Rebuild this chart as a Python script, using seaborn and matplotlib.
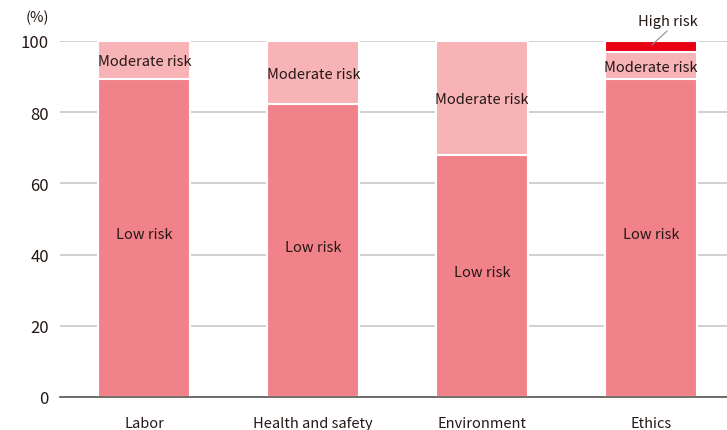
import matplotlib
matplotlib.use('Agg')
import matplotlib.pyplot as plt
import numpy as np
import pandas as pd
import seaborn as sns

categories = ['Labor', 'Health and safety', 'Environment', 'Ethics']
low_risk = [89.3, 82.2, 68.0, 89.4]
moderate_risk = [10.7, 17.8, 32.0, 7.4]
high_risk = [0.0, 0.0, 0.0, 3.2]
yticks = [0, 20, 40, 60, 80, 100]

colors = {'low': '#f2828a', 'moderate': '#f8b3b7', 'high': '#e60012'}

sns.set_style('white')
plt.rcParams['font.family'] = ['Noto Sans CJK JP', 'DejaVu Sans']

low = np.array(low_risk)
mid = low + np.array(moderate_risk)
top = mid + np.array(high_risk)

fig = plt.figure(figsize=(7.27, 4.31), dpi=100)
ax = fig.add_axes([0.0825, 0.0766, 0.9175, 0.826])

# stacked look: draw cumulative totals back to front
for vals, key in [(top, 'high'), (mid, 'moderate'), (low, 'low')]:
    df = pd.DataFrame({'cat': categories, 'val': vals})
    sns.barplot(data=df, x='cat', y='val', color=colors[key], saturation=1,
                width=0.545, edgecolor='white', linewidth=1.5, ax=ax, zorder=3)

for i in range(len(categories)):
    ax.text(i, low[i] / 2 + 1, 'Low risk', ha='center', va='center',
            fontsize=10.5, color='#231815', zorder=5)
    ax.text(i, (low[i] + mid[i]) / 2 - 0.3, 'Moderate risk', ha='center',
            va='center', fontsize=10.5, color='#231815', zorder=5)

# leader line for the small high-risk segment
ax.plot([3.006, 3.095], [98.9, 102.8], color='#8c8c8c', lw=0.8,
        clip_on=False, zorder=6)
ax.text(3.10, 105.7, 'High risk', ha='center', va='center', fontsize=10.5,
        color='#231815', clip_on=False, zorder=6)

ax.set_ylim(0, 100)
ax.set_xlim(-0.5, 3.45)
ax.set_yticks(yticks)
ax.yaxis.grid(True, color='#c8c8c8', linewidth=1.2, zorder=0)
ax.set_axisbelow(True)
for s in ['top', 'right', 'left']:
    ax.spines[s].set_visible(False)
ax.spines['bottom'].set_color('#5a5650')
ax.spines['bottom'].set_linewidth(1.2)
ax.spines['bottom'].set_zorder(4)
ax.tick_params(axis='y', length=0, pad=8, labelsize=12, labelcolor='#231815')
ax.tick_params(axis='x', length=0, pad=14, labelsize=10.5, labelcolor='#231815')
ax.set_xlabel('')
ax.set_ylabel('')
fig.text(0.052, 0.958, '(%)', ha='center', va='center', fontsize=10.5,
         color='#231815')

fig.savefig('out.png', dpi=100)
